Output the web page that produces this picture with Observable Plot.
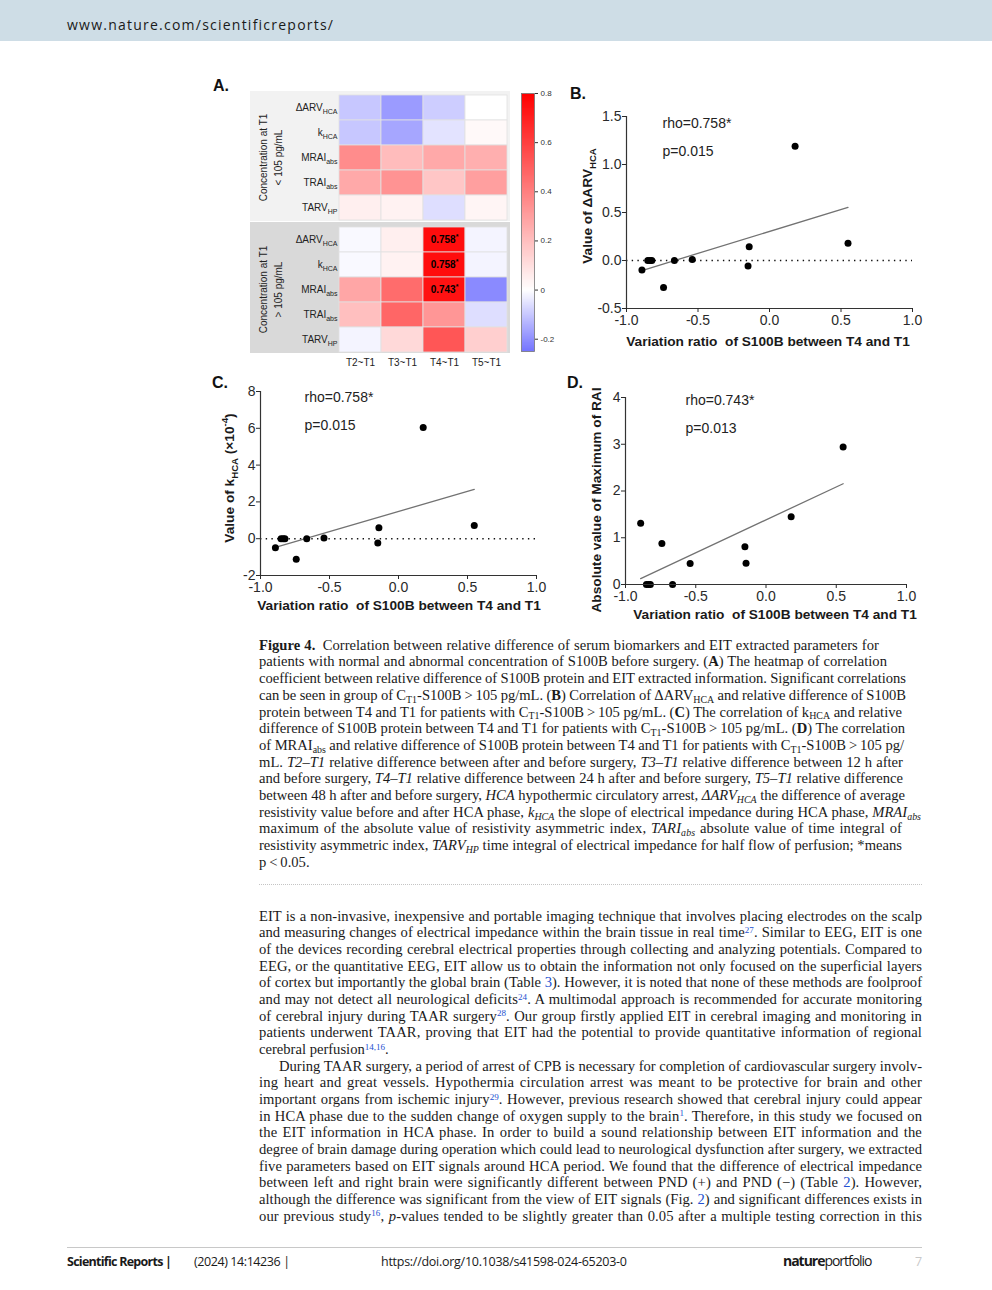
<!DOCTYPE html>
<html><head><meta charset="utf-8">
<script src="https://cdn.jsdelivr.net/npm/d3@7"></script>
<script src="https://cdn.jsdelivr.net/npm/@observablehq/plot@0.6"></script>
<style>
body{margin:0;background:#fff;}
#page{position:relative;width:992px;height:1290px;overflow:hidden;background:#fff;}
.abs{position:absolute;}
.hdr{position:absolute;left:0;top:0;width:992px;height:41px;background:#cedde6;}
.sans{font-family:"Open Sans","Liberation Sans",sans-serif;white-space:nowrap;color:#1a1a1a;}
.plab{position:absolute;font-family:"Liberation Sans",Arial,sans-serif;font-weight:bold;font-size:16px;line-height:18px;color:#111;}
.ln{position:absolute;left:259px;white-space:nowrap;font-family:"Liberation Serif","Times New Roman",serif;font-size:14.6px;line-height:16.7px;color:#1a1a1a;}
.ln sub{font-size:68%;vertical-align:baseline;position:relative;top:0.3em;line-height:0;}
.ln sup{font-size:62%;vertical-align:baseline;position:relative;top:-0.5em;line-height:0;}
.r{color:#2350d0;}
svg.plot, svg{overflow:visible;}
</style>
</head><body><div id="page">
<div class="hdr"></div>
<div class="abs sans" data-w="266" style="left:67px;top:15px;font-size:14px;line-height:20px;">www.nature.com/scientificreports/</div>

<div class="plab" style="left:213px;top:77px;">A.</div>
<div class="abs" style="left:250px;top:91px;width:260px;height:130px;background:#f2f2f2;"></div>
<div class="abs" style="left:250px;top:222px;width:260px;height:131px;background:#d9d9d9;"></div>
<div id="heat" class="abs" style="left:240px;top:85px;"></div>
<div id="cbar" class="abs" style="left:515px;top:85px;"></div>

<div class="plab" style="left:570px;top:85px;">B.</div>
<div id="pB" class="abs" style="left:560px;top:90px;"></div>
<div class="plab" style="left:212px;top:374px;">C.</div>
<div id="pC" class="abs" style="left:205px;top:375px;"></div>
<div class="plab" style="left:567px;top:374px;">D.</div>
<div id="pD" class="abs" style="left:575px;top:380px;"></div>

<div class="abs" style="left:259px;top:884px;width:663px;border-top:1px dotted #c4c4c4;"></div>

<div class="abs" style="left:67px;top:1247px;width:855px;border-top:1px solid #c8c8c8;"></div>
<div class="abs sans" data-w="105" style="left:67px;top:1253px;font-size:12.5px;line-height:18px;font-weight:bold;">Scientific Reports |</div>
<div class="abs sans" data-w="96" style="left:194px;top:1253px;font-size:12.5px;line-height:18px;">(2024) 14:14236 |</div>
<div class="abs sans" data-w="246" style="left:381px;top:1253px;font-size:12.5px;line-height:18px;">https://doi.org/10.1038/s41598-024-65203-0</div>
<div class="abs sans" data-w="89" style="left:783px;top:1251px;font-size:14px;line-height:20px;letter-spacing:-0.5px;"><b>nature</b>portfolio</div>
<div class="abs sans" style="left:915px;top:1253px;font-size:12.5px;line-height:18px;color:#c8c8c8;">7</div>
</div>
<script>
// ---------------- data ----------------
const periods = ["T2~T1", "T3~T1", "T4~T1", "T5~T1"];
const params = ["ΔARV_{HCA}", "k_{HCA}", "MRAI_{abs}", "TRAI_{abs}", "TARV_{HP}"];
const groups = ["low", "high"];
const groupLabels = ["Concentration at T1\n< 105 pg/mL", "Concentration at T1\n> 105 pg/mL"];
const rhoLow = [
  [-0.10, -0.18, -0.09, 0.00],
  [-0.10, -0.16, -0.05, 0.02],
  [0.36, 0.21, 0.27, 0.25],
  [0.27, 0.34, 0.18, 0.30],
  [0.05, 0.04, -0.06, 0.03]
];
const rhoHigh = [
  [-0.01, 0.05, 0.758, -0.02],
  [-0.01, 0.04, 0.758, -0.02],
  [0.28, 0.46, 0.743, -0.21],
  [0.20, 0.48, 0.33, -0.06],
  [-0.02, 0.12, 0.53, 0.15]
];
const sigHigh = [
  [0, 0, 1, 0],
  [0, 0, 1, 0],
  [0, 0, 1, 0],
  [0, 0, 0, 0],
  [0, 0, 0, 0]
];
const colorDomain = [-0.25, 0, 0.8];
const colorRange = ["#7474ff", "#ffffff", "#ff0000"];
const colorTicks = [-0.2, 0, 0.2, 0.4, 0.6, 0.8];

const s100bRatio = [-0.892, -0.851, -0.836, -0.823, -0.741, -0.665, -0.540, -0.150, -0.142, 0.179, 0.549];
const dArvHCA = [-0.10, 0, 0, 0, -0.28, 0, 0.01, -0.056, 0.143, 1.19, 0.18];
const kHCA = [-0.49, 0, 0, 0, -1.12, 0, 0.04, -0.24, 0.60, 6.05, 0.72];
const mraiAbs = [1.31, 0, 0, 0, 0.877, 0, 0.449, 0.806, 0.456, 1.448, 2.94];
const statB = ["rho=0.758*", "p=0.015"];
const statC = ["rho=0.758*", "p=0.015"];
const statD = ["rho=0.743*", "p=0.013"];
const xTicks = [-1, -0.5, 0, 0.5, 1];
const yTicksB = [-0.5, 0, 0.5, 1, 1.5];
const yTicksC = [-2, 0, 2, 4, 6, 8];
const yTicksD = [0, 1, 2, 3, 4];
const xTitle = "Variation ratio\u00a0 of S100B between T4 and T1";

const SANS = "'Liberation Sans', Arial, sans-serif";
const svgNS = "http://www.w3.org/2000/svg";

function richify(root) {
  root.querySelectorAll("text").forEach(t => {
    if (t.children.length) return;
    const s = t.textContent;
    if (!/[_^]\{/.test(s)) return;
    const fs = parseFloat(getComputedStyle(t).fontSize) || 10;
    t.textContent = "";
    let cur = 0, last = 0, m;
    const re = /([_^])\{([^}]*)\}/g;
    const add = (txt, target, small) => {
      const ts = document.createElementNS(svgNS, "tspan");
      ts.textContent = txt;
      const dy = target - cur;
      if (dy) ts.setAttribute("dy", dy.toFixed(2));
      cur = target;
      if (small) ts.setAttribute("font-size", (fs * 0.7).toFixed(2));
      t.appendChild(ts);
    };
    while ((m = re.exec(s))) {
      if (m.index > last) add(s.slice(last, m.index), 0, false);
      add(m[2], m[1] === "_" ? 0.3 * fs : -0.42 * fs, true);
      last = re.lastIndex;
    }
    if (last < s.length) add(s.slice(last), 0, false);
  });
}

// ---------------- heatmap ----------------
const cells = [];
groups.forEach((g, gi) => {
  const M = gi === 0 ? rhoLow : rhoHigh;
  params.forEach((p, pi) => periods.forEach((t, ti) => {
    cells.push({group: g, param: p, period: t, value: M[pi][ti],
      sig: gi === 1 && sigHigh[pi][ti] === 1});
  }));
});
const colorOpts = {type: "linear", domain: colorDomain, range: colorRange};

const heat = Plot.plot({
  width: 320, height: 285,
  marginLeft: 99, marginRight: 53, marginTop: 8, marginBottom: 18,
  style: {fontFamily: SANS, fontSize: "10px", color: "#222", background: "transparent", overflow: "visible"},
  x: {domain: periods, padding: 0, axis: null},
  y: {domain: params, padding: 0, axis: null},
  fy: {domain: groups, padding: 0.046, axis: null},
  color: colorOpts,
  marks: [
    Plot.cell(cells, {x: "period", y: "param", fy: "group", fill: "value", stroke: "#e2e2e2", strokeWidth: 0.8}),
    Plot.text(cells.filter(d => d.sig), {x: "period", y: "param", fy: "group",
      text: d => d.value.toFixed(3) + "^{*}", fontWeight: "bold", fontSize: 10, fill: "#000"}),
    Plot.text(groupLabels, {fy: groups, frameAnchor: "left", textAnchor: "middle", lineAnchor: "middle",
      rotate: -90, dx: -70, lineHeight: 1.5, fontSize: 10, fill: "#222"}),
    Plot.axisY({tickSize: 0, tickPadding: 2, fontSize: 10, label: null, tickFormat: d => d}),
    Plot.axisX({tickSize: 0, tickPadding: 6, fontSize: 10, label: null, tickFormat: d => d})
  ]
});
document.getElementById("heat").appendChild(heat);
richify(heat);

const cbar = Plot.plot({
  width: 50, height: 275,
  marginLeft: 6, marginRight: 31, marginTop: 8, marginBottom: 9,
  style: {fontFamily: SANS, fontSize: "8px", color: "#333", background: "transparent", overflow: "visible"},
  x: {domain: [0, 1], axis: null},
  y: {domain: [colorDomain[0], colorDomain[2]], axis: null},
  color: colorOpts,
  marks: [
    Plot.raster({fill: (x, y) => y, x1: 0, x2: 1, y1: colorDomain[0], y2: colorDomain[2], width: 1, height: 300, imageRendering: "auto"}),
    Plot.frame({stroke: "#777", strokeWidth: 0.8}),
    Plot.axisY({anchor: "right", ticks: colorTicks, tickSize: 3, tickPadding: 3, fontSize: 8, label: null,
      tickFormat: d => d === 0 ? "0" : d.toFixed(1)})
  ]
});
document.getElementById("cbar").appendChild(cbar);

// ---------------- scatter panels ----------------
function scatter(cfg) {
  const data = s100bRatio.map((x, i) => ({x, y: cfg.ys[i]}));
  const p = Plot.plot({
    width: cfg.w, height: cfg.h,
    marginLeft: cfg.ml, marginRight: cfg.mr, marginTop: cfg.mt, marginBottom: cfg.mb,
    style: {fontFamily: SANS, fontSize: "14px", color: "#2a2a2a", background: "transparent", overflow: "visible"},
    x: {domain: [-1, 1], axis: null},
    y: {domain: cfg.yDomain, axis: null},
    marks: [
      cfg.zero ? Plot.ruleY([0], {stroke: "#111", strokeWidth: 1.6, strokeDasharray: "1.4,4.3"}) : null,
      Plot.linearRegressionY(data, {x: "x", y: "y", stroke: "#727272", strokeWidth: 1.3, ci: 0}),
      Plot.dot(data, {x: "x", y: "y", r: 3.5, fill: "#000"}),
      Plot.ruleX([-1], {stroke: "#333", strokeWidth: 1.2}),
      Plot.ruleY([cfg.yDomain[0]], {stroke: "#333", strokeWidth: 1.2}),
      Plot.axisX({ticks: xTicks, tickFormat: d => d.toFixed(1), tickSize: 4, tickPadding: 3, fontSize: 14, label: null}),
      Plot.axisY({ticks: cfg.yTicks, tickFormat: cfg.fmt, tickSize: 4, tickPadding: 1, fontSize: 14, label: null}),
      Plot.text([cfg.stat[0]], {frameAnchor: "top-left", dx: cfg.sdx, dy: cfg.sdy1, textAnchor: "start", lineAnchor: "middle", fontSize: 14, fill: "#222"}),
      Plot.text([cfg.stat[1]], {frameAnchor: "top-left", dx: cfg.sdx, dy: cfg.sdy2, textAnchor: "start", lineAnchor: "middle", fontSize: 14, fill: "#222"})
    ]
  });
  const svg = d3.select(p);
  svg.append("text").attr("x", cfg.xl[0]).attr("y", cfg.xl[1]).attr("text-anchor", "middle")
    .attr("font-weight", "bold").attr("font-size", 13.7).attr("fill", "#1a1a1a").text(xTitle);
  svg.append("text").attr("transform", `translate(${cfg.yl[0]},${cfg.yl[1]}) rotate(-90)`)
    .attr("text-anchor", "middle").attr("dy", "0.35em")
    .attr("font-weight", "bold").attr("font-size", 13.7).attr("fill", "#1a1a1a").text(cfg.yTitle);
  document.getElementById(cfg.el).appendChild(p);
  richify(p);
}

scatter({el: "pB", ys: dArvHCA, yDomain: [-0.5, 1.5], yTicks: yTicksB, fmt: d => d.toFixed(1),
  w: 370, h: 265, ml: 66, mr: 18, mt: 26, mb: 47, zero: true,
  stat: statB, sdx: 36, sdy1: 7, sdy2: 35,
  xl: [208, 256], yl: [27, 116], yTitle: "Value of ΔARV_{HCA}"});
scatter({el: "pC", ys: kHCA, yDomain: [-2, 8], yTicks: yTicksC, fmt: d => String(d),
  w: 345, h: 240, ml: 55, mr: 14, mt: 16, mb: 40, zero: true,
  stat: statC, sdx: 44, sdy1: 6, sdy2: 34,
  xl: [194, 235], yl: [24, 103], yTitle: "Value of k_{HCA} (×10^{-4})"});
scatter({el: "pD", ys: mraiAbs, yDomain: [0, 4], yTicks: yTicksD, fmt: d => String(d),
  w: 345, h: 245, ml: 50, mr: 14, mt: 17, mb: 41, zero: false,
  stat: statD, sdx: 60, sdy1: 3, sdy2: 31,
  xl: [200, 239], yl: [21, 120], yTitle: "Absolute value of Maximum of RAI"});

// ---------------- caption & body text ----------------
const captionLines = [
  "<b>Figure 4.</b>&ensp;Correlation between relative difference of serum biomarkers and EIT extracted parameters for",
  "patients with normal and abnormal concentration of S100B before surgery. (<b>A</b>) The heatmap of correlation",
  "coefficient between relative difference of S100B protein and EIT extracted information. Significant correlations",
  "can be seen in group of C<sub>T1</sub>-S100B&#8201;&gt;&#8201;105 pg/mL. (<b>B</b>) Correlation of ΔARV<sub>HCA</sub> and relative difference of S100B",
  "protein between T4 and T1 for patients with C<sub>T1</sub>-S100B&#8201;&gt;&#8201;105 pg/mL. (<b>C</b>) The correlation of k<sub>HCA</sub> and relative",
  "difference of S100B protein between T4 and T1 for patients with C<sub>T1</sub>-S100B&#8201;&gt;&#8201;105 pg/mL. (<b>D</b>) The correlation",
  "of MRAI<sub>abs</sub> and relative difference of S100B protein between T4 and T1 for patients with C<sub>T1</sub>-S100B&#8201;&gt;&#8201;105 pg/",
  "mL. <i>T2–T1</i> relative difference between after and before surgery, <i>T3–T1</i> relative difference between 12 h after",
  "and before surgery, <i>T4–T1</i> relative difference between 24 h after and before surgery, <i>T5–T1</i> relative difference",
  "between 48 h after and before surgery, <i>HCA</i> hypothermic circulatory arrest, <i>ΔARV<sub>HCA</sub></i> the difference of average",
  "resistivity value before and after HCA phase, <i>k<sub>HCA</sub></i> the slope of electrical impedance during HCA phase, <i>MRAI<sub>abs</sub></i>",
  "maximum of the absolute value of resistivity asymmetric index, <i>TARI<sub>abs</sub></i> absolute value of time integral of",
  "resistivity asymmetric index, <i>TARV<sub>HP</sub></i> time integral of electrical impedance for half flow of perfusion; *means",
  "p&#8201;&lt;&#8201;0.05."
];
const captionRight = [879, 887, 906, 906, 902, 905, 904, 903, 903, 905, 921, 902, 902, 0];

const bodyLines = [
  "EIT is a non-invasive, inexpensive and portable imaging technique that involves placing electrodes on the scalp",
  "and measuring changes of electrical impedance within the brain tissue in real time<sup class=\"r\">27</sup>. Similar to EEG, EIT is one",
  "of the devices recording cerebral electrical properties through collecting and analyzing potentials. Compared to",
  "EEG, or the quantitative EEG, EIT allow us to obtain the information not only focused on the superficial layers",
  "of cortex but importantly the global brain (Table <span class=\"r\">3</span>). However, it is noted that none of these methods are foolproof",
  "and may not detect all neurological deficits<sup class=\"r\">24</sup>. A multimodal approach is recommended for accurate monitoring",
  "of cerebral injury during TAAR surgery<sup class=\"r\">28</sup>. Our group firstly applied EIT in cerebral imaging and monitoring in",
  "patients underwent TAAR, proving that EIT had the potential to provide quantitative information of regional",
  "cerebral perfusion<sup class=\"r\">14,16</sup>.",
  "During TAAR surgery, a period of arrest of CPB is necessary for completion of cardiovascular surgery involv-",
  "ing heart and great vessels. Hypothermia circulation arrest was meant to be protective for brain and other",
  "important organs from ischemic injury<sup class=\"r\">29</sup>. However, previous research showed that cerebral injury could appear",
  "in HCA phase due to the sudden change of oxygen supply to the brain<sup class=\"r\">1</sup>. Therefore, in this study we focused on",
  "the EIT information in HCA phase. In order to build a sound relationship between EIT information and the",
  "degree of brain damage during operation which could lead to neurological dysfunction after surgery, we extracted",
  "five parameters based on EIT signals around HCA period. We found that the difference of electrical impedance",
  "between left and right brain were significantly different between PND (+) and PND (−) (Table <span class=\"r\">2</span>). However,",
  "although the difference was significant from the view of EIT signals (Fig. <span class=\"r\">2</span>) and significant differences exists in",
  "our previous study<sup class=\"r\">16</sup>, <i>p</i>-values tended to be slightly greater than 0.05 after a multiple testing correction in this"
];

const page = document.getElementById("page");
captionLines.forEach((html, i) => {
  const d = document.createElement("div");
  d.className = "ln";
  d.style.top = (636.7 + i * 16.7) + "px";
  d.innerHTML = html;
  if (captionRight[i]) d.dataset.w = captionRight[i] - 259;
  page.appendChild(d);
});
bodyLines.forEach((html, i) => {
  const d = document.createElement("div");
  d.className = "ln";
  d.style.top = (907.7 + i * 16.67) + "px";
  d.innerHTML = html;
  if (i === 9) d.style.left = "279px";
  if (i !== 8) d.dataset.w = i === 9 ? 643 : 663;
  page.appendChild(d);
});

// fit lines to their measured widths
document.querySelectorAll("[data-w]").forEach(el => {
  const target = +el.dataset.w;
  const w = el.getBoundingClientRect().width;
  const txt = el.textContent;
  const spaces = (txt.match(/ /g) || []).length;
  const n = Math.max(1, txt.length - 1);
  if (el.classList.contains("ln") && spaces > 0) {
    const extra = target - w;
    el.style.letterSpacing = (0.4 * extra / n).toFixed(3) + "px";
    el.style.wordSpacing = (0.6 * extra / spaces).toFixed(3) + "px";
    const w2 = el.getBoundingClientRect().width;
    const ws = parseFloat(el.style.wordSpacing) + (target - w2) / spaces;
    el.style.wordSpacing = ws.toFixed(3) + "px";
  } else {
    const base = parseFloat(getComputedStyle(el).letterSpacing) || 0;
    el.style.letterSpacing = (base + (target - w) / n).toFixed(3) + "px";
  }
});
</script>
</body></html>
